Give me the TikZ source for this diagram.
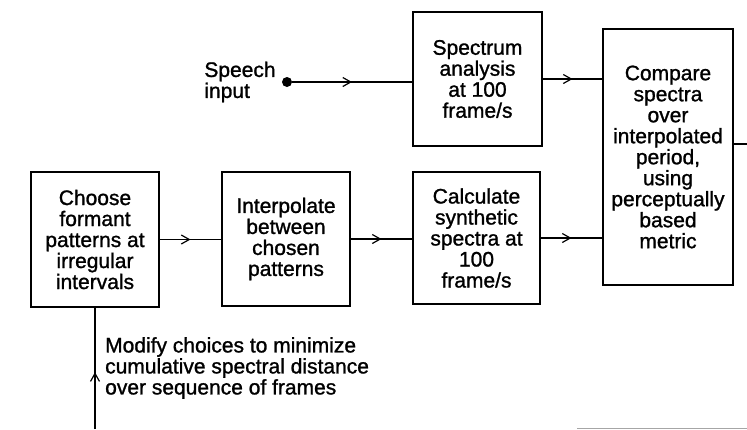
\documentclass[tikz,border=0pt]{standalone}
\usepackage{fontspec}
\setmainfont{Liberation Sans}[FakeBold=1.2]
\usetikzlibrary{arrows.meta,decorations.markings}

\begin{document}
\begin{tikzpicture}[x=1pt,y=-1pt,
  box/.style={draw,line width=2.4pt,inner sep=0pt,align=center,
    font=\fontsize{21}{21}\selectfont},
  txt/.style={inner sep=0pt,font=\fontsize{21}{21}\selectfont},
  wire/.style={line width=1.2pt},
  flow/.style={wire,postaction={decorate},
    decoration={markings,mark=at position #1 with
      {\arrow{Straight Barb[length=8pt,width=9pt,line width=1.2pt]}}}},
  flow/.default=0.5
]
\useasboundingbox (0,0) rectangle (747,429);

% processing blocks
\node[box,minimum width=129pt,minimum height=134pt] (spec) at (477.5,79)
  {Spectrum\\analysis\\at 100\\frame/s};
\node[box,minimum width=130pt,minimum height=256pt] (cmp) at (668,157)
  {Compare\\spectra\\over\\interpolated\\period,\\using\\perceptually\\based\\metric};
\node[box,minimum width=128pt,minimum height=135pt] (choose) at (95,239.5)
  {Choose\\formant\\patterns at\\irregular\\intervals};
\node[box,minimum width=128pt,minimum height=134pt] (interp) at (286,239)
  {Interpolate\\between\\chosen\\patterns};
\node[box,minimum width=127pt,minimum height=132pt] (calc) at (476.5,238)
  {Calculate\\synthetic\\spectra at\\100\\frame/s};

% speech input terminal
\node[circle,fill,inner sep=0pt,minimum size=10pt] (dot) at (287,82) {};
\node[txt,align=left,anchor=east] (speech) at ([xshift=-6pt]dot.west)
  {Speech\\input};

% signal flow
\draw[flow] (dot) -- (dot -| spec.west);
\draw[flow] (spec.east) -- (spec.east -| cmp.west);
\draw[flow] (choose.east) -- (choose.east -| interp.west);
\draw[flow] (interp.east) -- (interp.east -| calc.west);
\draw[flow] (calc.east) -- (calc.east -| cmp.west);

% feedback loop
\coordinate (rexit) at (747,144);
\draw[wire] (rexit -| cmp.east) -- (rexit);
\coordinate (fbend) at (95,429);
\draw[flow=0.47] (fbend) -- (choose.south);
\coordinate (ret1) at (577,428.5);
\coordinate (ret2) at (747,428.5);
\draw[wire,line width=1.5pt,gray!70] (ret1) -- (ret2);

\node[txt,align=left,anchor=north west] (note) at (105,337)
  {Modify choices to minimize\\cumulative spectral distance\\over sequence of frames};
\end{tikzpicture}
\end{document}
